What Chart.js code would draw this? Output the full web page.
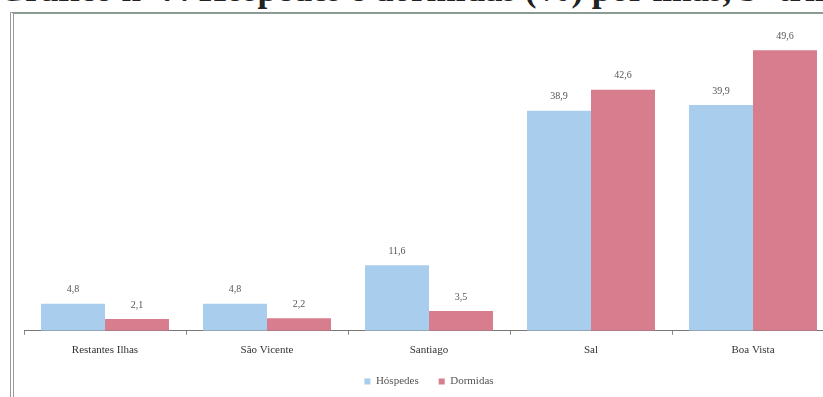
<!DOCTYPE html>
<html>
<head>
<meta charset="utf-8">
<script src="https://cdn.jsdelivr.net/npm/chart.js@4.4.1/dist/chart.umd.min.js"></script>
<style>
  html, body { margin: 0; padding: 0; background: #fff; overflow: hidden; }
  body { width: 823px; height: 397px; position: relative; }
  #title {
    position: absolute; left: -2px; top: -28px; white-space: nowrap;
    font: bold 35px "Liberation Serif", serif; line-height: 35px; color: #222;
  }
  #frame {
    position: absolute; left: 10px; top: 12px; width: 900px; height: 400px;
    border-left: 4px double #9a9a9a; border-top: 2px solid #8c9a92;
  }
  #wrap { position: absolute; left: 14px; top: 14px; width: 830px; height: 384px; }
</style>
</head>
<body>
<div id="title">Gráfico nº 7: Hóspedes e dormidas (%) por ilhas, 3º trim</div>
<div id="frame"></div>
<div id="wrap"><canvas id="islandChart"></canvas></div>
<script>
var islands = ['Restantes Ilhas', 'São Vicente', 'Santiago', 'Sal', 'Boa Vista'];
var hospedes = [4.8, 4.8, 11.6, 38.9, 39.9];
var dormidas = [2.1, 2.2, 3.5, 42.6, 49.6];

// value labels above each bar, decimal comma
var barValues = {
    id: 'barValues',
    afterDatasetsDraw: function (chart) {
        var ctx = chart.ctx;
        ctx.save();
        ctx.font = '10px "Liberation Serif", serif';
        ctx.fillStyle = '#555';
        ctx.textAlign = 'center';
        ctx.textBaseline = 'bottom';
        chart.data.datasets.forEach(function (ds, i) {
            chart.getDatasetMeta(i).data.forEach(function (bar, j) {
                var txt = ds.data[j].toFixed(1).replace('.', ',');
                ctx.fillText(txt, bar.x, bar.y - 9);
            });
        });
        ctx.restore();
    }
};

var context2DBar = document.getElementById('islandChart').getContext('2d');
var barChart = new Chart(context2DBar, {
    type: 'bar',
    data: {
        labels: islands,
        datasets: [{
            label: 'Hóspedes',
            data: hospedes,
            backgroundColor: '#a9cdec'
        }, {
            label: 'Dormidas',
            data: dormidas,
            backgroundColor: '#d87d8d'
        }]
    },
    options: {
        responsive: true,
        maintainAspectRatio: false,
        animation: false,
        layout: { padding: { top: 17, left: 10, right: 10, bottom: 1 } },
        barPercentage: 1,
        categoryPercentage: 0.79,
        scales: {
            x: {
                grid: { drawOnChartArea: false, drawTicks: true, tickLength: 4, color: '#888' },
                border: { color: '#777' },
                ticks: {
                    padding: 9,
                    color: '#333',
                    font: { family: '"Liberation Serif", serif', size: 11 }
                },
                afterFit: function (scale) {
                    scale.height -= 10;
                }
            },
            y: { display: false, min: 0, max: 53 }
        },
        plugins: {
            legend: {
                position: 'bottom',
                labels: {
                    boxWidth: 6,
                    boxHeight: 6,
                    padding: 20,
                    color: '#555',
                    font: { family: '"Liberation Serif", serif', size: 11 }
                }
            },
            tooltip: { enabled: false }
        }
    },
    plugins: [barValues]
});
</script>
</body>
</html>
